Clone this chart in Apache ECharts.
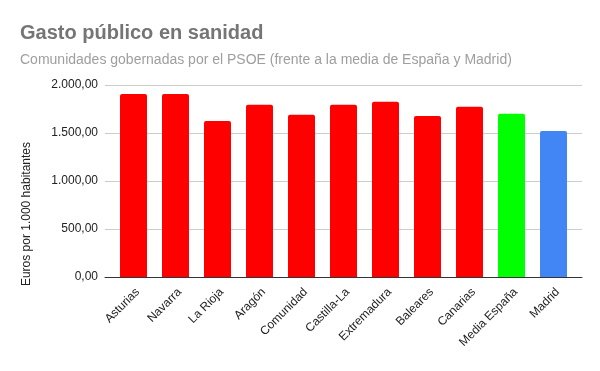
<!DOCTYPE html>
<html><head><meta charset="utf-8">
<script src="https://cdn.jsdelivr.net/npm/echarts@6/dist/echarts.min.js"></script>
<style>html,body{margin:0;padding:0;background:#fff}#c{width:600px;height:371px}</style>
</head><body><div id="c"></div>
<script>
var categories = ['Asturias','Navarra','La Rioja','Aragón','Comunidad','Castilla-La','Extremadura','Baleares','Canarias','Media España','Madrid'];
var values = [1906, 1906, 1626, 1794, 1689, 1794, 1825, 1678, 1773, 1700, 1522];
var barColors = ['#ff0000','#ff0000','#ff0000','#ff0000','#ff0000','#ff0000','#ff0000','#ff0000','#ff0000','#00ff00','#4285f4'];
var yTicks = [0, 500, 1000, 1500, 2000];

function fmt(v){
  var s = Math.round(v).toString().replace(/\B(?=(\d{3})+(?!\d))/g, '.');
  return s + ',00';
}
var font = '"Liberation Sans", Arial, sans-serif';
var chart = echarts.init(document.getElementById('c'), null, {renderer:'canvas'});
chart.setOption({
  backgroundColor:'#ffffff',
  animation:false,
  title:{
    text:'Gasto público en sanidad',
    subtext:'Comunidades gobernadas por el PSOE (frente a la media de España y Madrid)',
    left:15, top:18, itemGap:10,
    textStyle:{fontFamily:font,fontSize:20,fontWeight:'bold',color:'#757575'},
    subtextStyle:{fontFamily:font,fontSize:14,color:'#9e9e9e'}
  },
  grid:[
    {left:112.5, width:462, top:85, bottom:94},
    {left:105, right:18, top:85, bottom:94}
  ],
  xAxis:[
    {type:'category', gridIndex:0, data:categories,
     axisLine:{show:false}, axisTick:{show:false},
     axisLabel:{rotate:45, interval:0, fontFamily:font, fontSize:12, color:'#222', margin:9, verticalAlign:'top'}},
    {type:'category', gridIndex:1, data:[''],
     axisLine:{show:true, lineStyle:{color:'#333', width:1}}, axisTick:{show:false},
     axisLabel:{show:false}}
  ],
  yAxis:[
    {type:'value', gridIndex:0, min:yTicks[0], max:yTicks[yTicks.length-1], interval:500, show:false},
    {type:'value', gridIndex:1, min:yTicks[0], max:yTicks[yTicks.length-1], interval:500,
     axisLine:{show:false}, axisTick:{show:false},
     splitLine:{lineStyle:{color:'#cccccc'}},
     axisLabel:{formatter:fmt, fontFamily:font, fontSize:12, color:'#222', margin:7}}
  ],
  graphic:[{
    type:'text', left:21, top:142, rotation:Math.PI/2,
    style:{text:'Euros por 1.000 habitantes', font:'12px '+font, fill:'#222'}
  }],
  series:[{
    type:'bar', xAxisIndex:0, yAxisIndex:0, barWidth:27,
    data: values.map(function(v,i){return {value:v, itemStyle:{color:barColors[i]}};}),
    itemStyle:{borderRadius:[2,2,0,0]}
  }]
});
</script></body></html>
